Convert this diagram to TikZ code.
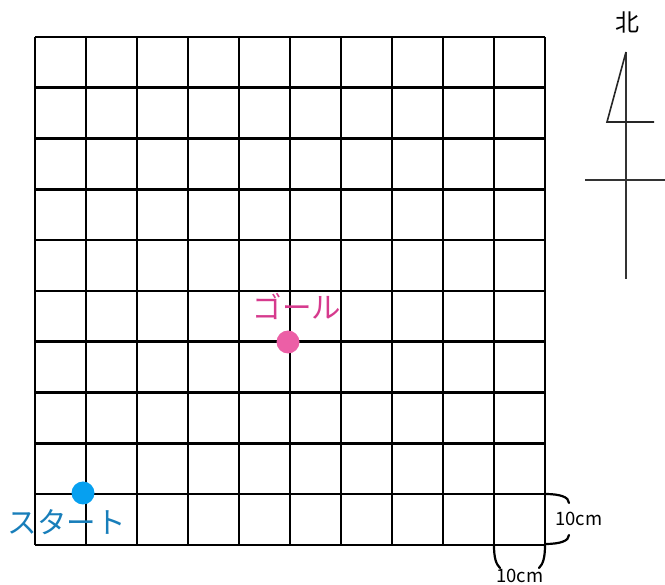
\documentclass[tikz,border=0pt]{standalone}
\usepackage{fontspec}
\newfontfamily\jpfont{Noto Sans CJK JP}
\begin{document}
\begin{tikzpicture}[x=1pt,y=-1pt,
  gridline/.style={line width=2.6pt,black},
  compassline/.style={line width=1.2pt,black!80},
  brace/.style={line width=2.2pt,black,line cap=round},
  lbl/.style={inner sep=0pt,font=\jpfont\fontsize{18.5}{18.5}\selectfont},
  jlbl/.style={inner sep=0pt,font=\jpfont\fontsize{29.5}{29.5}\selectfont}]
\useasboundingbox (0,0) rectangle (665,585);
% grid
\foreach \i in {0,...,10}{
  \draw[gridline] ({35+\i*51},37) -- ({35+\i*51},545);
  \draw[gridline] (35,{37+\i*50.8}) -- (545,{37+\i*50.8});
}
% goal
\node[circle,fill={rgb,255:red,236;green,95;blue,166},minimum size=23pt,inner sep=0pt] (goal) at (288,342) {};
\node[jlbl,text={rgb,255:red,214;green,58;blue,141}] (goallbl) at (297,306) {ゴール};
% start
\node[circle,fill={rgb,255:red,6;green,160;blue,240},minimum size=23pt,inner sep=0pt] (start) at (83,493) {};
\node[jlbl,text={rgb,255:red,24;green,126;blue,186}] (startlbl) at (67,522) {スタート};
% scale brackets
\coordinate (r1) at (545,494);
\coordinate (r2) at (545,544);
\draw[brace] (r1) .. controls (560,494) and (569,497) .. (569,503);
\draw[brace] (r2) .. controls (560,544) and (569,541) .. (569,535);
\node[lbl] (rl) at (579,519) {10cm};
\coordinate (b1) at (494,545);
\coordinate (b2) at (545,545);
\draw[brace] (b1) .. controls (494,558) and (496,564) .. (500,568);
\draw[brace] (b2) .. controls (545,558) and (543,564) .. (539,568);
\node[lbl] (bl) at (520,576) {10cm};
% north arrow
\node[inner sep=0pt,font=\jpfont\fontsize{24}{24}\selectfont] (north) at (627,22) {北};
\coordinate (ntop) at (626,52);
\coordinate (nbot) at (626,279);
\coordinate (tl) at (607,122);
\coordinate (tr) at (654,122);
\coordinate (cl) at (585,180);
\coordinate (cr) at (665,180);
\draw[compassline] (ntop) -- (nbot);
\draw[line width=1.6pt,black!85] (ntop) -- (tl) -- (tr);
\draw[compassline] (cl) -- (cr);
\end{tikzpicture}
\end{document}
